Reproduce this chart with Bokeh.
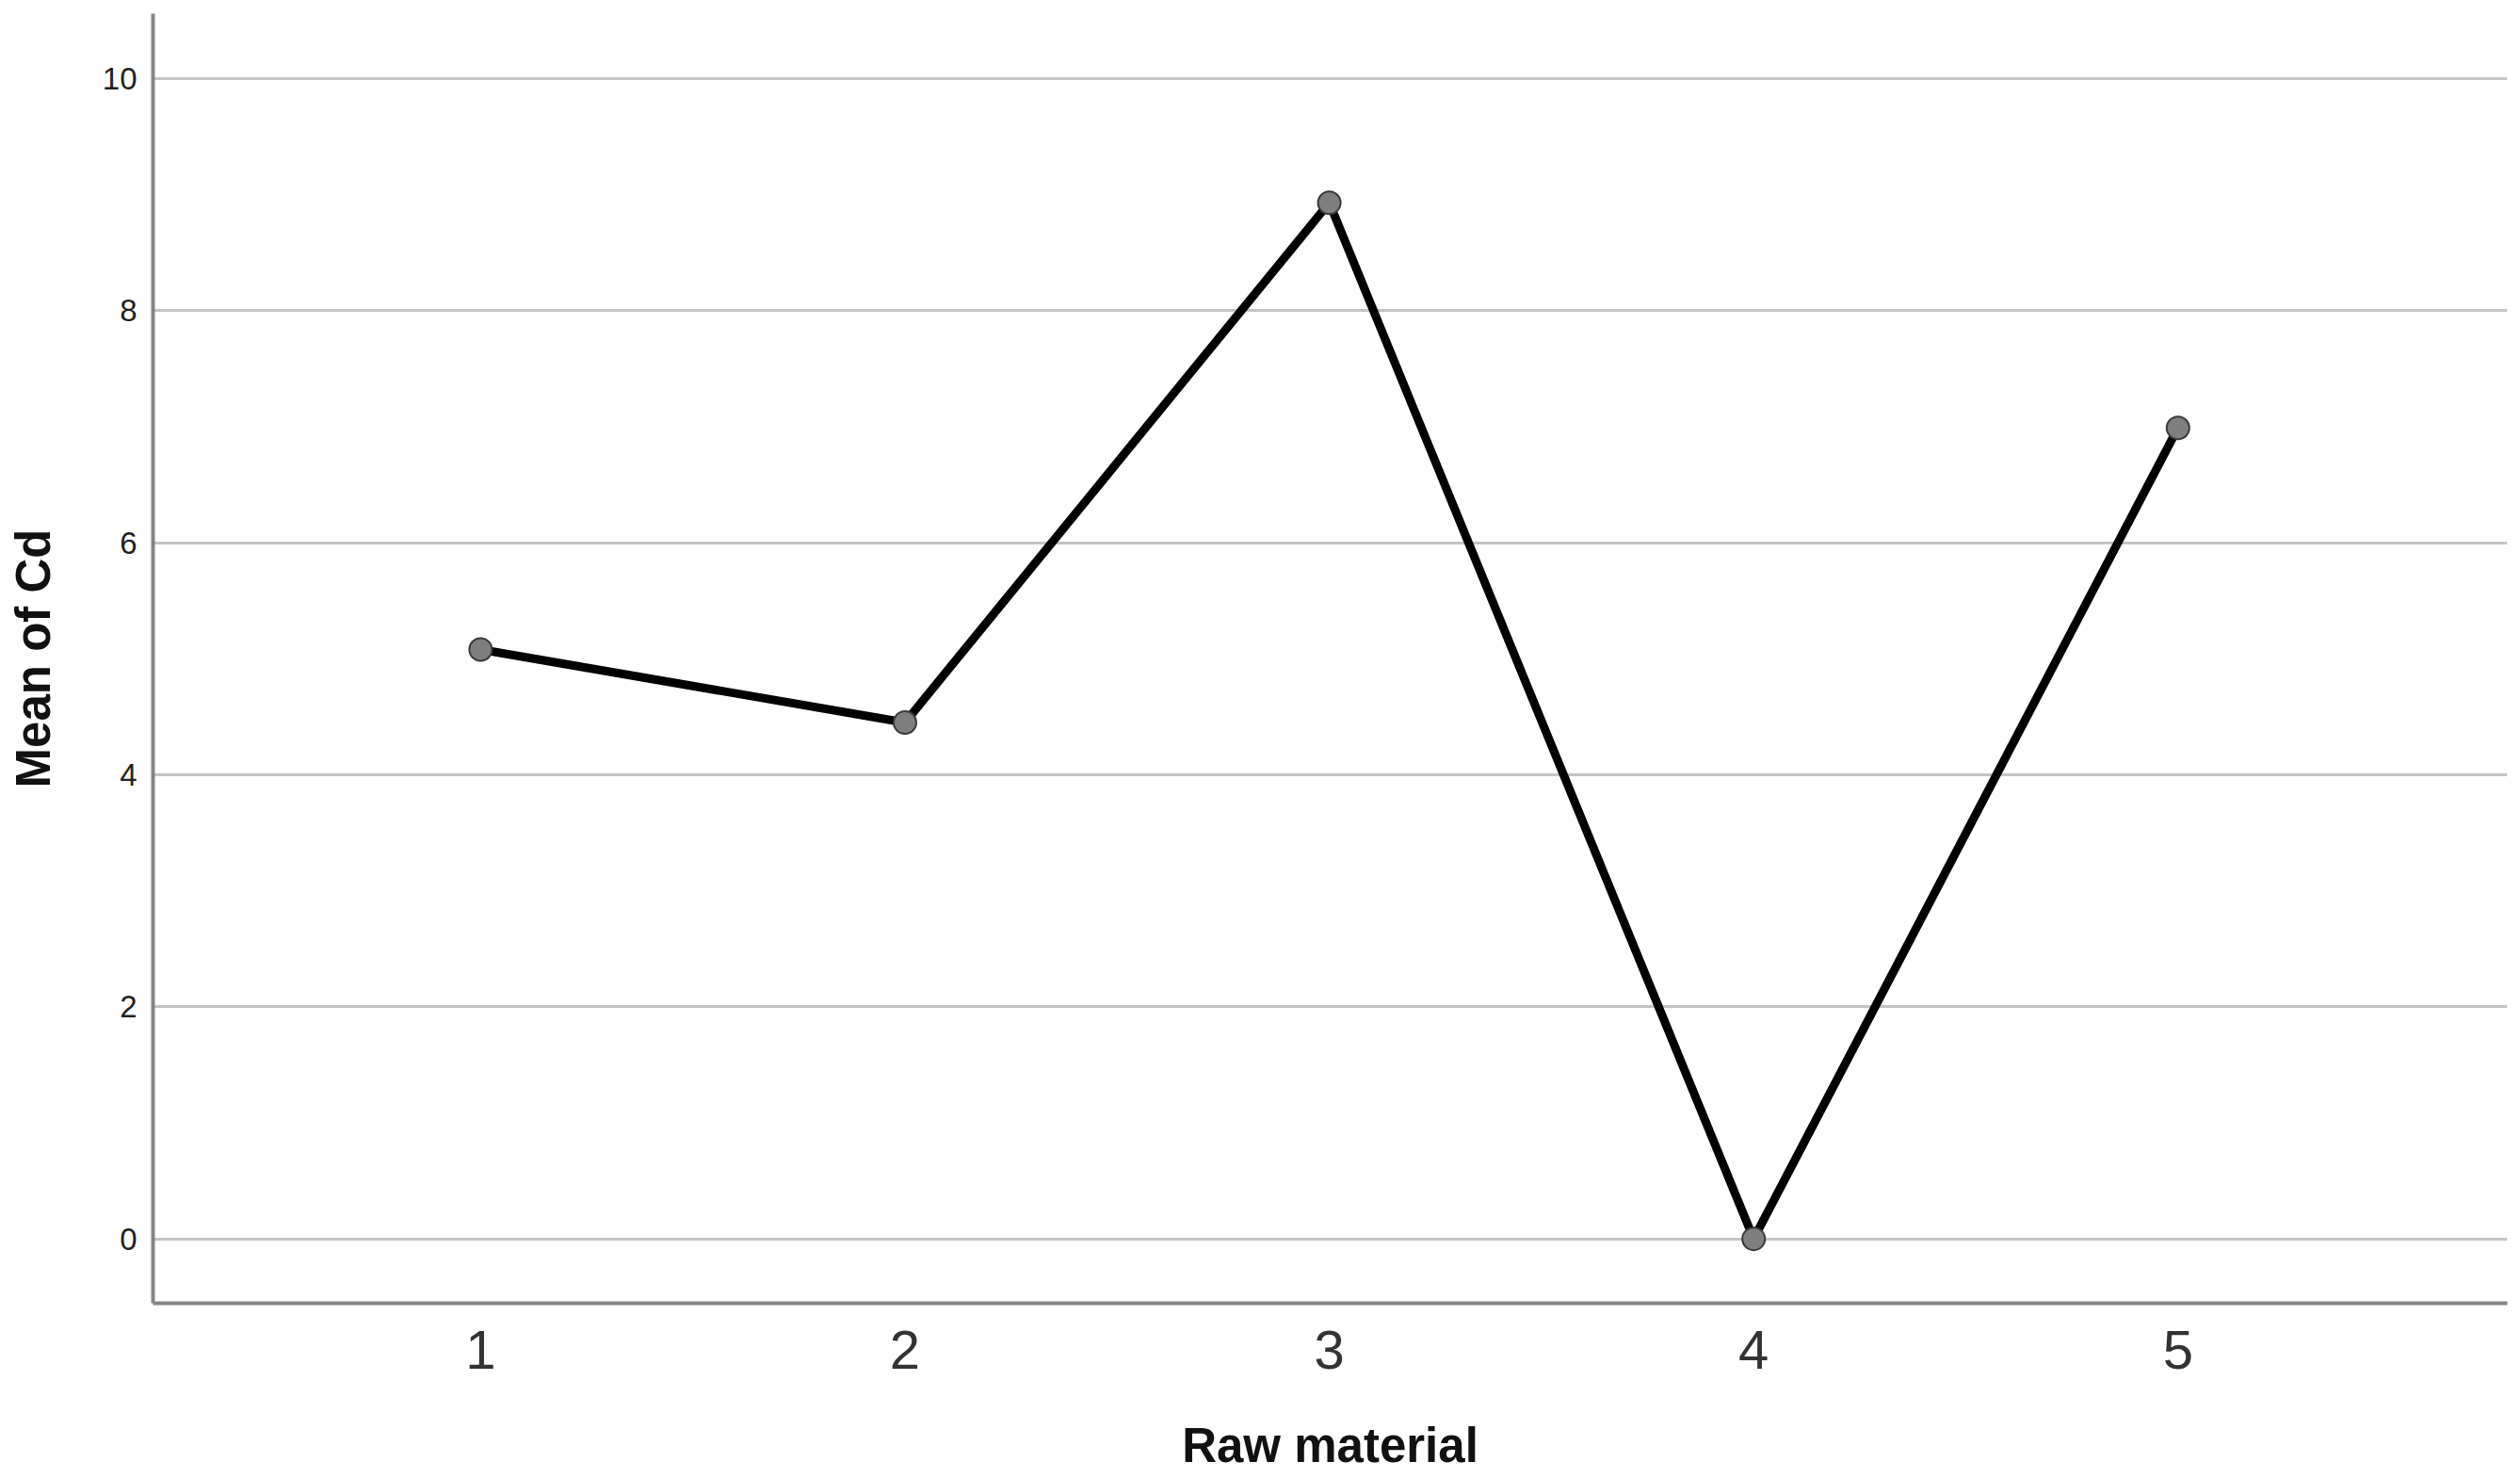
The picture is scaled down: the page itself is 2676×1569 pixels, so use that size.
from bokeh.plotting import figure
from bokeh.embed import file_html
from bokeh.resources import INLINE
from bokeh.models import ColumnDataSource, FixedTicker, Range1d

# Data
categories = [1, 2, 3, 4, 5]
mean_cd = [5.08, 4.45, 8.93, 0.0, 6.99]
y_ticks = [0, 2, 4, 6, 8, 10]

src = ColumnDataSource(data=dict(x=categories, y=mean_cd))

p = figure(width=2676, height=1569, output_backend="svg", toolbar_location=None,
           x_range=Range1d(0.228, 5.776), y_range=Range1d(-0.555, 10.56),
           min_border_left=162, min_border_right=14, min_border_top=14, min_border_bottom=186)

p.outline_line_color = None
p.background_fill_color = "white"
p.border_fill_color = "white"

p.line("x", "y", source=src, line_color="black", line_width=9, line_join="round")
p.scatter("x", "y", source=src, size=24, fill_color="#7f7f7f", line_color="#3a3a3a", line_width=2)

# Grid
p.xgrid.grid_line_color = None
p.ygrid.ticker = FixedTicker(ticks=y_ticks)
p.ygrid.grid_line_color = "#c4c4c4"
p.ygrid.grid_line_width = 3

# Axes
p.xaxis.ticker = FixedTicker(ticks=categories)
p.yaxis.ticker = FixedTicker(ticks=y_ticks)
for ax in (p.xaxis[0], p.yaxis[0]):
    ax.axis_line_color = "#858585"
    ax.axis_line_width = 4
    ax.major_tick_line_color = None
    ax.minor_tick_line_color = None
    ax.major_tick_out = 0
    ax.major_tick_in = 0
    ax.minor_tick_out = 0
    ax.axis_label_text_font = "Liberation Sans"
    ax.axis_label_text_font_style = "bold"
    ax.axis_label_text_font_size = "51px"
    ax.axis_label_text_color = "#111111"
    ax.major_label_text_font = "Liberation Sans"

p.xaxis.axis_label = "Raw material"
p.yaxis.axis_label = "Mean of Cd"
p.xaxis.major_label_text_font_size = "58px"
p.xaxis.major_label_text_color = "#333333"
p.xaxis.major_label_standoff = 29
p.xaxis.axis_label_standoff = 50
p.yaxis.major_label_text_font_size = "33px"
p.yaxis.major_label_text_color = "#222222"
p.yaxis.major_label_standoff = 17
p.yaxis.axis_label_standoff = 42

open("out.html", "w").write(file_html(p, INLINE))
